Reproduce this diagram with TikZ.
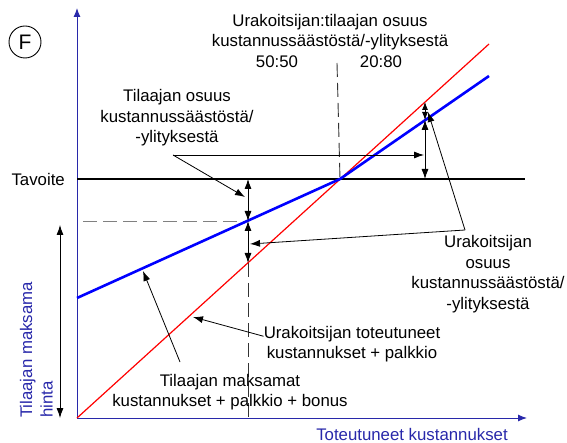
\documentclass[tikz,border=0pt]{standalone}
\usepackage{fontspec}
\setmainfont{Liberation Sans}
\usetikzlibrary{arrows.meta}
\definecolor{axisblue}{RGB}{40,40,170}

\begin{document}
\begin{tikzpicture}[
    x=1pt,
    y=-1pt,
    font=\fontsize{16.8}{20.5}\selectfont,
    >={Latex[length=10pt,width=7pt]},
    axis/.style={
        draw=axisblue,
        line width=1pt,
        -{Latex[length=9pt,width=7pt]}
    },
    leader/.style={line width=0.8pt},
    share/.style={line width=0.8pt, <->},
    guide/.style={line width=0.9pt, dash pattern=on 14pt off 6pt},
    label/.style={align=center, inner sep=0pt}
]

\useasboundingbox (0,0) rectangle (567,443);

% Key points of the plot
\coordinate (O) at (77,418);
\coordinate (ytop) at (77,8);
\coordinate (xend) at (527,418);
\coordinate (tleft) at (77,179);
\coordinate (tright) at (525,179);
\coordinate (kink) at (340,179);
\coordinate (bstart) at (77,298);
\coordinate (bend) at (489,76);
\coordinate (rend) at (489,44);

% Measuring columns
\coordinate (t1) at (248,179);
\coordinate (b1) at (248,221);
\coordinate (r1) at (248,263);
\coordinate (foot1) at (248,418);
\coordinate (t2) at (425,179);
\coordinate (b2) at (425,120);
\coordinate (r2) at (425,102);

% Axes
\draw[axis] (O) -- (ytop);
\draw[axis] (O) -- (xend);

% Target level
\draw[line width=2.2pt] (tleft) -- (tright);
\node[left=12pt, inner sep=0pt] (tavoite) at (tleft) {Tavoite};

% Guide lines
\coordinate (dleft) at (83,221);
\coordinate (dtop) at (337,63);
\draw[guide, gray] (dleft) -- (b1);
\draw[guide, black!80] (r1) -- (foot1);
\draw[guide, black!80] (dtop) -- (kink);

% Cost and price lines
\draw[red, line width=1.2pt] (O) -- (rend);
\draw[blue, line width=2.6pt] (bstart) -- (kink) -- (bend);

% Shares
\draw[share] (t1) -- (b1);
\draw[share] (b1) -- (r1);
\draw[share] (t2) -- (b2);
\draw[share, >={Latex[length=8pt,width=6pt]}] (b2) -- (r2);

% Ratio heading
\node[label] (ratiotitle) at (330,32)
    {Urakoitsijan:tilaajan osuus\\kustannussäästöstä/-ylityksestä};
\node[label] (ratioA) at (277,62) {50:50};
\node[label] (ratioB) at (381,62) {20:80};

% Customer share
\node[label] (custshare) at (177,118)
    {Tilaajan osuus\\kustannussäästöstä/\\-ylityksestä};
\coordinate (custjoin) at (173,155);
\coordinate (custtipA) at (245,197);
\coordinate (custtipB) at (424,155);
\draw[leader,->] (custjoin) -- (custtipA);
\draw[leader,->] (custjoin) -- (custtipB);

% Contractor share
\node[label] (contrshare) at (488,274)
    {Urakoitsijan\\osuus\\kustannussäästöstä/\\-ylityksestä};
\coordinate (contrjoin) at (465,230);
\coordinate (contrtipA) at (250,244);
\coordinate (contrtipB) at (428,112);
\draw[leader,->] (contrjoin) -- (contrtipA);
\draw[leader,->] (contrjoin) -- (contrtipB);

% Line captions
\node[label] (contrcost) at (352,344)
    {Urakoitsijan toteutuneet\\kustannukset + palkkio};
\coordinate (redtip) at (193,317);
\draw[leader,->] (contrcost.175) -- (redtip);

\node[label] (custpaid) at (230,392)
    {Tilaajan maksamat\\kustannukset + palkkio + bonus};
\coordinate (paidfrom) at (180,362);
\coordinate (bluetip) at (143,271);
\draw[leader,->] (paidfrom) -- (bluetip);

% Axis labels
\node[rotate=90, align=left, anchor=south west, inner sep=0pt,
    text=axisblue] (ylabel) at (53,418) {Tilaajan maksama\\hinta};
\coordinate (ptop) at (60,225);
\coordinate (pbot) at (60,418);
\draw[leader,<->] (ptop) -- (pbot);
\node[text=axisblue, inner sep=0pt] (xlabel) at (412,434)
    {Toteutuneet kustannukset};

% Figure mark
\node[circle, draw, line width=0.9pt, minimum size=32pt, inner sep=0pt,
    font=\fontsize{21}{24}\selectfont] (fmark) at (25,42) {F};

\end{tikzpicture}
\end{document}
